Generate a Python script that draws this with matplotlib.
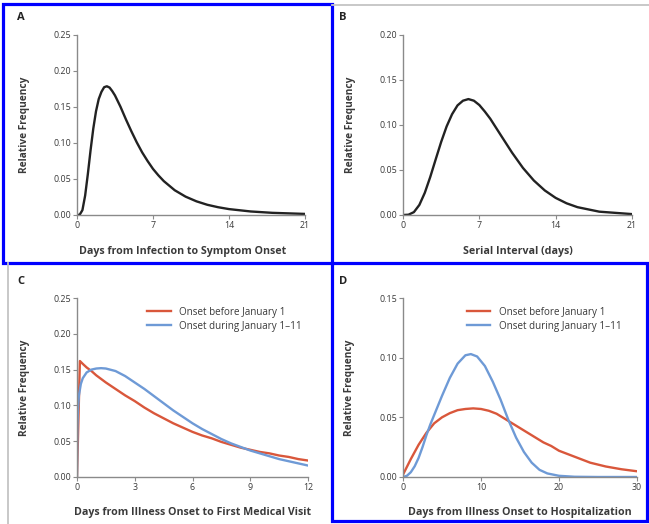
import matplotlib
matplotlib.use("Agg")
import matplotlib.pyplot as plt
from matplotlib.patches import Rectangle
from matplotlib.lines import Line2D

plt.rcParams['font.family'] = ['Open Sans', 'DejaVu Sans']

# panel A: incubation period
a_days = [0, 0.25, 0.5, 0.75, 1, 1.25, 1.5, 1.75, 2, 2.25, 2.5, 2.75, 3, 3.25, 3.5, 4, 4.5, 5,
          5.5, 6, 6.5, 7, 7.5, 8, 9, 10, 11, 12, 13, 14, 16, 18, 21]
a_freq = [0, 0.0004, 0.0068, 0.027, 0.057, 0.090, 0.120, 0.144, 0.161, 0.171, 0.1775, 0.1788,
          0.177, 0.172, 0.166, 0.1505, 0.133, 0.1165, 0.101, 0.087, 0.075, 0.064, 0.055, 0.047,
          0.0344, 0.0255, 0.019, 0.0142, 0.0108, 0.0082, 0.0049, 0.003, 0.0015]

# panel B: serial interval
b_days = [0, 0.5, 1, 1.5, 2, 2.5, 3, 3.5, 4, 4.5, 5, 5.5, 6, 6.5, 7, 7.5, 8, 9, 10, 11, 12, 13,
          14, 15, 16, 18, 21]
b_freq = [0, 0.0003, 0.0032, 0.0112, 0.0247, 0.0423, 0.0619, 0.0812, 0.0984, 0.112, 0.1218,
          0.127, 0.1288, 0.127, 0.1222, 0.115, 0.107, 0.0881, 0.0693, 0.0523, 0.0383, 0.0273,
          0.019, 0.013, 0.0087, 0.0037, 0.001]

# panel C: illness onset to first medical visit
c_red_days = [0, 0.15, 0.3, 0.5, 0.75, 1, 1.5, 2, 2.5, 3, 3.5, 4, 4.5, 5, 5.5, 6, 6.5, 7, 7.5, 8,
              8.5, 9, 9.5, 10, 10.5, 11, 11.5, 12]
c_red_freq = [0, 0.162, 0.158, 0.153, 0.148, 0.142, 0.132, 0.123, 0.114, 0.106, 0.097, 0.089,
              0.082, 0.075, 0.069, 0.063, 0.058, 0.054, 0.049, 0.045, 0.041, 0.038, 0.035, 0.033,
              0.030, 0.028, 0.025, 0.023]
c_blue_days = [0, 0.02, 0.05, 0.1, 0.2, 0.3, 0.5, 0.75, 1, 1.25, 1.5, 2, 2.5, 3, 3.5, 4, 4.5, 5,
               5.5, 6, 6.5, 7, 7.5, 8, 8.5, 9, 9.5, 10, 10.5, 11, 11.5, 12]
c_blue_freq = [0, 0.07, 0.095, 0.114, 0.130, 0.138, 0.146, 0.150, 0.1515, 0.152, 0.1515, 0.148,
               0.141, 0.132, 0.123, 0.113, 0.103, 0.093, 0.084, 0.075, 0.067, 0.060, 0.053,
               0.047, 0.042, 0.037, 0.033, 0.029, 0.025, 0.022, 0.019, 0.016]

# panel D: illness onset to hospitalization
d_red_days = [0, 1, 2, 3, 4, 5, 6, 7, 8, 9, 10, 11, 12, 13, 14, 15, 16, 17, 18, 19, 20, 22, 24,
              26, 28, 30]
d_red_freq = [0.002, 0.015, 0.027, 0.037, 0.045, 0.050, 0.0535, 0.056, 0.057, 0.0575, 0.057,
              0.0555, 0.053, 0.049, 0.045, 0.041, 0.037, 0.033, 0.029, 0.026, 0.022, 0.017,
              0.012, 0.0088, 0.0065, 0.0048]
d_blue_days = [0, 0.5, 1, 1.5, 2, 2.5, 3, 3.5, 4, 5, 6, 7, 8, 8.7, 9.5, 10.5, 11.5, 12.5, 13.5,
               14.5, 15.5, 16.5, 17.5, 18.5, 20, 22, 25, 30]
d_blue_freq = [0, 0.001, 0.004, 0.009, 0.016, 0.025, 0.035, 0.044, 0.052, 0.068, 0.083, 0.095,
               0.102, 0.103, 0.101, 0.093, 0.080, 0.065, 0.048, 0.033, 0.021, 0.012, 0.006,
               0.003, 0.001, 0.0002, 0, 0]

legend_labels = ["Onset before January 1", "Onset during January 1\u201311"]

RED = "#d9573b"
BLUE = "#6e9ad6"
AXC = "#8a8a8a"
TXT = "#3a3a3a"

W, H = 649, 524
fig = plt.figure(figsize=(W / 100, H / 100), dpi=100)


def px_axes(x0, y0, x1, y1):
    return fig.add_axes([x0 / W, 1 - y1 / H, (x1 - x0) / W, (y1 - y0) / H])


def curve(ax, x, y, color):
    ax.plot(x, y, color=color, lw=1.7, solid_joinstyle="round", solid_capstyle="round")


def style(ax, xmax, xticks, ymax, yticks, xlabel, letter, lx, ly):
    ax.set_xlim(0, xmax)
    ax.set_ylim(0, ymax)
    ax.set_xticks(xticks)
    ax.set_yticks(yticks)
    ax.set_yticklabels([f"{v:.2f}" for v in yticks])
    for s in ["top", "right"]:
        ax.spines[s].set_visible(False)
    for s in ["left", "bottom"]:
        ax.spines[s].set_color(AXC)
        ax.spines[s].set_linewidth(1.0)
    ax.tick_params(direction="out", length=3, width=0.8, color=AXC, labelsize=6.4,
                   labelcolor=TXT, pad=1.5)
    ax.set_xlabel(xlabel, fontsize=7.7, fontweight="bold", color=TXT)
    ax.set_ylabel("Relative Frequency", fontsize=7.3, fontweight="bold", color=TXT)
    ax.xaxis.set_label_coords(0.5, -0.17)
    ax.yaxis.set_label_coords(-0.205, 0.5)
    fig.text(lx / W, 1 - ly / H, letter, fontsize=8, fontweight="bold", color="#222222",
             ha="left", va="center")


axA = px_axes(77, 35, 305, 215)
curve(axA, a_days, a_freq, "#222222")
style(axA, 21, [0, 7, 14, 21], 0.25, [0, 0.05, 0.10, 0.15, 0.20, 0.25],
      "Days from Infection to Symptom Onset", "A", 17, 17)
axA.xaxis.set_label_coords(0.465, -0.17)

axB = px_axes(403, 35, 632, 215)
curve(axB, b_days, b_freq, "#222222")
style(axB, 21, [0, 7, 14, 21], 0.20, [0, 0.05, 0.10, 0.15, 0.20],
      "Serial Interval (days)", "B", 339, 17)

axC = px_axes(77, 298, 308, 477)
curve(axC, c_red_days, c_red_freq, RED)
curve(axC, c_blue_days, c_blue_freq, BLUE)
style(axC, 12, [0, 3, 6, 9, 12], 0.25, [0, 0.05, 0.10, 0.15, 0.20, 0.25],
      "Days from Illness Onset to First Medical Visit", "C", 17, 281)

axD = px_axes(403, 298, 637, 477)
curve(axD, d_red_days, d_red_freq, RED)
curve(axD, d_blue_days, d_blue_freq, BLUE)
style(axD, 30, [0, 10, 20, 30], 0.15, [0, 0.05, 0.10, 0.15],
      "Days from Illness Onset to Hospitalization", "D", 339, 281)

for ax, anchor_x in ((axC, 1.0), (axD, 0.96)):
    handles = [Line2D([], [], color=RED, lw=1.7), Line2D([], [], color=BLUE, lw=1.7)]
    ax.legend(handles, legend_labels, loc="upper right", bbox_to_anchor=(anchor_x, 0.985),
              frameon=False, fontsize=7.1, handlelength=2.4, handletextpad=0.9,
              labelspacing=0.3, labelcolor=TXT, borderaxespad=0.2)

# light gray panel frames from the original figure
fig.add_artist(Line2D([332 / W, 1], [1 - 5 / H, 1 - 5 / H], color="#c4c4c4", lw=1.3,
                      transform=fig.transFigure))
fig.add_artist(Line2D([8 / W, 8 / W], [0, 1 - 263 / H], color="#c4c4c4", lw=1.3,
                      transform=fig.transFigure))

# blue highlight boxes around panels A and D
fig.add_artist(Rectangle((3 / W, 1 - 263 / H), (332 - 3) / W, (263 - 4) / H, fill=False,
                         edgecolor="#0000ff", lw=2.3, transform=fig.transFigure))
fig.add_artist(Rectangle((332 / W, 1 - 521 / H), (647 - 332) / W, (521 - 263) / H, fill=False,
                         edgecolor="#0000ff", lw=2.3, transform=fig.transFigure))

fig.savefig("out.png", dpi=100)
